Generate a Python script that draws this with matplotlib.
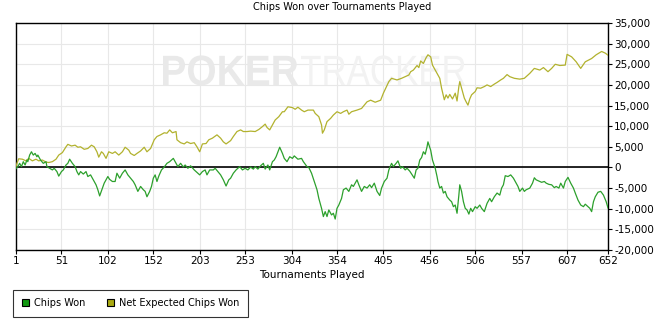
import matplotlib
matplotlib.use("Agg")
import matplotlib.pyplot as plt
from matplotlib.patches import Rectangle, PathPatch
from matplotlib.textpath import TextPath
from matplotlib.font_manager import FontProperties
from matplotlib.transforms import Affine2D
from matplotlib.ticker import FuncFormatter

plt.rcParams['font.family'] = ['DejaVu Sans']

# Chips Won
won_t = [1, 3, 5, 7, 9, 11, 13, 14, 16, 18, 20, 22, 24, 25, 28, 31, 34, 35, 38, 41,
         43, 46, 48, 51, 53, 56, 58, 60, 63, 66, 68, 70, 72, 75, 78, 80, 83, 86, 89, 91,
         93, 96, 98, 100, 102, 104, 107, 110, 112, 115, 118, 121, 124, 127, 130, 132, 135, 138, 141, 143,
         145, 148, 150, 152, 154, 156, 158, 161, 164, 167, 170, 174, 176, 179, 182, 185, 187, 190, 193, 197,
         200, 203, 206, 209, 211, 214, 218, 220, 223, 226, 229, 232, 235, 237, 240, 243, 247, 250, 253, 256,
         259, 262, 264, 267, 270, 273, 275, 278, 280, 283, 285, 287, 291, 294, 296, 299, 302, 305, 307, 311,
         315, 317, 321, 323, 326, 329, 332, 334, 337, 339, 341, 343, 345, 348, 350, 352, 354, 356, 359, 361,
         364, 367, 370, 372, 376, 378, 381, 384, 387, 390, 392, 395, 398, 401, 403, 406, 409, 411, 414, 416,
         419, 421, 424, 426, 429, 431, 434, 439, 441, 443, 445, 447, 449, 451, 453, 454, 457, 459, 462, 464,
         465, 467, 469, 471, 473, 475, 478, 480, 482, 484, 486, 488, 489, 491, 493, 495, 497, 499, 501, 503,
         506, 508, 511, 513, 516, 519, 522, 524, 527, 530, 533, 535, 537, 539, 542, 545, 548, 550, 553, 555,
         558, 560, 562, 566, 569, 571, 573, 576, 579, 582, 584, 587, 590, 593, 595, 598, 600, 603, 605, 608,
         611, 614, 616, 619, 622, 625, 627, 630, 632, 634, 636, 638, 641, 644, 647, 650, 652]
won_v = [-300, 200, 1000, 200, 1400, 600, 1800, 1400, 3000, 3800, 3000, 3400, 2600, 3000, 1800, 1000, 1400, 200, -200, -600,
         -200, -1000, -2100, -1000, -600, 600, 1000, 2000, 1000, 200, -1000, -1800, -1000, -1600, -1000, -2200, -1800, -3000, -4200, -5400,
         -6900, -5000, -3800, -3000, -2200, -2900, -3400, -3400, -1400, -2600, -1400, -600, -1800, -2600, -3400, -4200, -5800, -4600, -5400, -5800,
         -7100, -5800, -4600, -2600, -1800, -3400, -2100, -600, 100, 1000, 1400, 2200, 1400, 200, 1000, 100, 600, -200, 400, -600,
         -1200, -1800, -1000, -600, -1800, -600, -600, -200, -1000, -1800, -3000, -4500, -3000, -2600, -1400, -600, 200, -600, -200, -600,
         100, -400, 200, -400, 400, 1000, -400, 600, -600, 1400, 1800, 2600, 4900, 3400, 2200, 1400, 2600, 2200, 2800, 2000,
         2200, 1400, 200, 0, -1400, -3400, -5400, -7500, -9900, -11900, -10700, -11900, -10300, -11500, -11100, -12500, -9900, -9100, -7500, -5400,
         -5000, -5800, -4200, -4600, -3000, -4200, -5800, -4600, -5000, -4200, -4900, -3800, -5800, -6800, -5000, -3400, -2600, -600, 1000, 200,
         1000, 1600, -200, 200, -600, -200, -900, -2600, -600, -200, 1800, 2400, 3800, 3200, 5000, 6200, 4200, 1800, -200, -2200,
         -3400, -5000, -4600, -6200, -5800, -7100, -7900, -8300, -9500, -9100, -11100, -6700, -4200, -5800, -8300, -9900, -10300, -11300, -9900, -10700,
         -9500, -9900, -9100, -9900, -10700, -8700, -7500, -8300, -7100, -6200, -6700, -5000, -4200, -2000, -2200, -1800, -2600, -3400, -4600, -5800,
         -5000, -5800, -5400, -5000, -3800, -2500, -3000, -3300, -3600, -3400, -3800, -4100, -4200, -4900, -4600, -5000, -3800, -5000, -3400, -2400,
         -3800, -5000, -6200, -7900, -9100, -9500, -8900, -9500, -9900, -10700, -8300, -7100, -6000, -5800, -6700, -8300, -9800]

# Net Expected Chips Won
exp_t = [1, 2, 4, 8, 12, 15, 19, 23, 26, 30, 34, 37, 41, 45, 48, 52, 56, 58, 62, 66,
         69, 72, 76, 80, 84, 87, 90, 92, 95, 97, 100, 103, 107, 110, 114, 118, 121, 125, 127, 131,
         134, 138, 142, 145, 149, 153, 156, 160, 164, 167, 170, 173, 177, 178, 182, 186, 189, 193, 197, 200,
         203, 206, 210, 213, 217, 222, 226, 229, 232, 237, 240, 244, 248, 251, 255, 259, 264, 268, 272, 275,
         277, 280, 283, 286, 290, 294, 296, 300, 305, 308, 311, 315, 318, 322, 328, 330, 334, 337, 338, 340,
         343, 347, 350, 354, 358, 361, 365, 367, 370, 376, 381, 387, 391, 396, 402, 405, 411, 414, 420, 425,
         429, 433, 435, 438, 442, 444, 446, 449, 452, 454, 457, 459, 463, 467, 469, 472, 474, 476, 478, 481,
         484, 486, 488, 489, 491, 494, 496, 498, 500, 502, 506, 508, 512, 516, 519, 523, 527, 530, 534, 537,
         541, 544, 549, 555, 560, 566, 571, 577, 581, 586, 590, 594, 599, 605, 607, 612, 617, 622, 627, 634,
         639, 645, 649, 652]
exp_v = [200, 1000, 2100, 2000, 1600, 2200, 1600, 2000, 1600, 1800, 1300, 1200, 1400, 2000, 3000, 3600, 5000, 5600, 5200, 5400,
         4900, 5000, 4400, 4600, 5400, 5000, 3800, 2500, 3800, 3400, 2200, 3800, 3400, 3800, 3000, 3800, 4900, 4200, 3400, 2900,
         3400, 4000, 4900, 3800, 4600, 6700, 7500, 7900, 8400, 8300, 9100, 8400, 8700, 6700, 6000, 5700, 6200, 5800, 6000, 5000,
         3800, 5700, 5800, 6700, 7100, 7900, 7100, 6200, 5700, 6500, 7500, 8700, 9100, 8700, 8700, 8800, 8700, 9200, 9900, 10500,
         9700, 9100, 10300, 11500, 12300, 13500, 13500, 14700, 14500, 14100, 14600, 13900, 13500, 13900, 13900, 13100, 12300, 10300, 8300, 9100,
         11100, 11900, 12700, 13500, 13100, 13500, 13900, 12900, 13500, 13900, 14300, 15900, 16300, 15800, 16300, 18000, 20800, 21600, 21200, 21600,
         22000, 22400, 23200, 23600, 24700, 24200, 25800, 25200, 26600, 27300, 26800, 24800, 23200, 21600, 19200, 16400, 17600, 16800, 17700, 16600,
         18000, 16100, 19600, 20800, 19200, 16800, 15900, 15100, 16600, 17600, 18400, 19300, 19200, 19600, 20000, 19600, 20200, 20600, 21200, 21600,
         22500, 22000, 21600, 21400, 21600, 22800, 24000, 23600, 24200, 23200, 24000, 25000, 24700, 24800, 27400, 26800, 25600, 24000, 25600, 26400,
         27300, 28100, 27700, 27200]

xticks = [1, 51, 102, 152, 203, 253, 304, 354, 405, 456, 506, 557, 607, 652]
yticks = list(range(-20000, 35001, 5000))

won_color = '#2ca02c'
exp_color = '#b2b22e'

W, H = 659, 325
fig = plt.figure(figsize=(W / 100, H / 100), dpi=100)
ax = fig.add_axes([16 / W, 1 - 250 / H, 592 / W, 227 / H])

ax.set_xlim(1, 652)
ax.set_ylim(-20000, 35000)
ax.set_xticks(xticks)
ax.set_yticks(yticks)
ax.yaxis.tick_right()
ax.yaxis.set_major_formatter(FuncFormatter(lambda v, p: f"{int(v):,}"))
ax.tick_params(axis='both', labelsize=7.5, length=3, width=0.8, color='black', pad=1.5)
ax.grid(True, color='#e8e8e8', lw=0.8)
ax.set_axisbelow(True)
for s in ax.spines.values():
    s.set_linewidth(1)
    s.set_color('black')


# watermark, squeezed into the box it takes in the reference (pixels)
def watermark(word, weight, x0, x1, base, cap, color):
    tp = TextPath((0, 0), word, size=10, prop=FontProperties(family='Liberation Sans', weight=weight))
    ext = tp.get_extents()
    sx = (x1 - x0) / ext.width
    sy = cap / ext.height
    trf = Affine2D().translate(-ext.x0, 0).scale(sx, sy).translate(x0, H - base)
    ax.add_artist(PathPatch(tp, transform=trf, facecolor=color, edgecolor='none',
                            zorder=1, clip_on=False))


watermark("POKER", 'bold', 163, 298, 85, 30, '#e9e9e9')
watermark("TRACKER", 'normal', 301, 465, 85, 30, '#f2f2f2')

ax.axhline(0, color='black', lw=1.2, zorder=2)
ax.plot(exp_t, exp_v, color=exp_color, lw=0.9, zorder=3)
ax.plot(won_t, won_v, color=won_color, lw=0.9, zorder=3)

ax.set_xlabel("Tournaments Played", fontsize=7.5, labelpad=3)
fig.text(342 / W, 1 - 7 / H, "Chips Won over Tournaments Played", fontsize=7,
         ha='center', va='center')

handles = [Rectangle((0, 0), 1, 1, facecolor='#119911', edgecolor='black', lw=0.8),
           Rectangle((0, 0), 1, 1, facecolor='#aaaa11', edgecolor='black', lw=0.8)]
leg = fig.legend(handles, ["Chips Won", "Net Expected Chips Won"], ncol=2,
                 loc='lower left', bbox_to_anchor=(13 / W, 8 / H), borderaxespad=0,
                 fontsize=7, frameon=True, fancybox=False, handlelength=0.75, handleheight=0.75,
                 handletextpad=0.5, columnspacing=2.2, borderpad=0.9)
leg.get_frame().set_edgecolor('black')
leg.get_frame().set_linewidth(0.8)

fig.savefig("out.png", dpi=100)
